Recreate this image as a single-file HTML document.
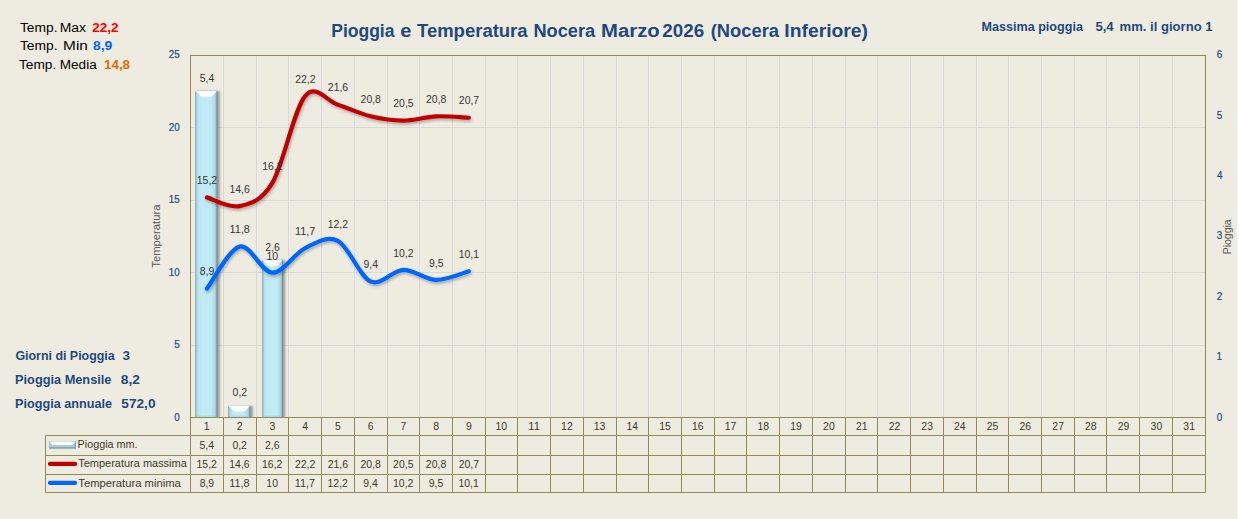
<!DOCTYPE html><html><head><meta charset="utf-8"><style>html,body{margin:0;padding:0;background:#fff;}svg{display:block;font-family:"Liberation Sans",sans-serif;}</style></head><body>
<svg width="1239" height="519" viewBox="0 0 1239 519">
<defs>
<filter id="sh" x="-10%" y="-10%" width="120%" height="130%"><feGaussianBlur in="SourceAlpha" stdDeviation="1.6"/><feOffset dx="0.8" dy="2.2"/><feComponentTransfer><feFuncA type="linear" slope="0.28"/></feComponentTransfer><feMerge><feMergeNode/><feMergeNode in="SourceGraphic"/></feMerge></filter>
<filter id="bsh" x="-30%" y="-5%" width="160%" height="110%"><feGaussianBlur in="SourceAlpha" stdDeviation="1"/><feOffset dx="1.5" dy="0"/><feComponentTransfer><feFuncA type="linear" slope="0.35"/></feComponentTransfer><feMerge><feMergeNode/><feMergeNode in="SourceGraphic"/></feMerge></filter>
<linearGradient id="barh" x1="0" x2="1" y1="0" y2="0">
<stop offset="0" stop-color="#86AFBC"/><stop offset="0.05" stop-color="#9CC6D2"/><stop offset="0.12" stop-color="#B9E3EE"/><stop offset="0.3" stop-color="#C0EAF5"/><stop offset="0.7" stop-color="#C0EAF5"/><stop offset="0.86" stop-color="#B4DCE7"/><stop offset="0.95" stop-color="#94B9C4"/><stop offset="1" stop-color="#6F929C"/>
</linearGradient>
<linearGradient id="bevt" x1="0" x2="0" y1="0" y2="1"><stop offset="0" stop-color="#FFFFFF"/><stop offset="0.7" stop-color="#F8FDFE"/><stop offset="1" stop-color="#DDF3F8"/></linearGradient>
<linearGradient id="bevb" x1="0" x2="0" y1="0" y2="1"><stop offset="0" stop-color="#A8D0DB" stop-opacity="0"/><stop offset="1" stop-color="#A2C8D3" stop-opacity="0.7"/></linearGradient>
<clipPath id="plotclip"><rect x="0" y="0" width="1239" height="417"/></clipPath>
</defs>
<rect x="0" y="0" width="1237" height="519" fill="#EEECE1"/>
<rect x="1237" y="0" width="2" height="519" fill="#FFFFFF"/>
<line x1="190.5" x2="1205.5" y1="345.5" y2="345.5" stroke="#D9D9D9" stroke-width="1"/>
<line x1="190.5" x2="1205.5" y1="272.5" y2="272.5" stroke="#D9D9D9" stroke-width="1"/>
<line x1="190.5" x2="1205.5" y1="200.5" y2="200.5" stroke="#D9D9D9" stroke-width="1"/>
<line x1="190.5" x2="1205.5" y1="127.5" y2="127.5" stroke="#D9D9D9" stroke-width="1"/>
<line x1="223.5" x2="223.5" y1="55.5" y2="417.5" stroke="#D9D9D9" stroke-width="1"/>
<line x1="256.5" x2="256.5" y1="55.5" y2="417.5" stroke="#D9D9D9" stroke-width="1"/>
<line x1="288.5" x2="288.5" y1="55.5" y2="417.5" stroke="#D9D9D9" stroke-width="1"/>
<line x1="321.5" x2="321.5" y1="55.5" y2="417.5" stroke="#D9D9D9" stroke-width="1"/>
<line x1="354.5" x2="354.5" y1="55.5" y2="417.5" stroke="#D9D9D9" stroke-width="1"/>
<line x1="387.5" x2="387.5" y1="55.5" y2="417.5" stroke="#D9D9D9" stroke-width="1"/>
<line x1="419.5" x2="419.5" y1="55.5" y2="417.5" stroke="#D9D9D9" stroke-width="1"/>
<line x1="452.5" x2="452.5" y1="55.5" y2="417.5" stroke="#D9D9D9" stroke-width="1"/>
<line x1="485.5" x2="485.5" y1="55.5" y2="417.5" stroke="#D9D9D9" stroke-width="1"/>
<line x1="517.5" x2="517.5" y1="55.5" y2="417.5" stroke="#D9D9D9" stroke-width="1"/>
<line x1="550.5" x2="550.5" y1="55.5" y2="417.5" stroke="#D9D9D9" stroke-width="1"/>
<line x1="583.5" x2="583.5" y1="55.5" y2="417.5" stroke="#D9D9D9" stroke-width="1"/>
<line x1="616.5" x2="616.5" y1="55.5" y2="417.5" stroke="#D9D9D9" stroke-width="1"/>
<line x1="648.5" x2="648.5" y1="55.5" y2="417.5" stroke="#D9D9D9" stroke-width="1"/>
<line x1="681.5" x2="681.5" y1="55.5" y2="417.5" stroke="#D9D9D9" stroke-width="1"/>
<line x1="714.5" x2="714.5" y1="55.5" y2="417.5" stroke="#D9D9D9" stroke-width="1"/>
<line x1="746.5" x2="746.5" y1="55.5" y2="417.5" stroke="#D9D9D9" stroke-width="1"/>
<line x1="779.5" x2="779.5" y1="55.5" y2="417.5" stroke="#D9D9D9" stroke-width="1"/>
<line x1="812.5" x2="812.5" y1="55.5" y2="417.5" stroke="#D9D9D9" stroke-width="1"/>
<line x1="845.5" x2="845.5" y1="55.5" y2="417.5" stroke="#D9D9D9" stroke-width="1"/>
<line x1="877.5" x2="877.5" y1="55.5" y2="417.5" stroke="#D9D9D9" stroke-width="1"/>
<line x1="910.5" x2="910.5" y1="55.5" y2="417.5" stroke="#D9D9D9" stroke-width="1"/>
<line x1="943.5" x2="943.5" y1="55.5" y2="417.5" stroke="#D9D9D9" stroke-width="1"/>
<line x1="976.5" x2="976.5" y1="55.5" y2="417.5" stroke="#D9D9D9" stroke-width="1"/>
<line x1="1008.5" x2="1008.5" y1="55.5" y2="417.5" stroke="#D9D9D9" stroke-width="1"/>
<line x1="1041.5" x2="1041.5" y1="55.5" y2="417.5" stroke="#D9D9D9" stroke-width="1"/>
<line x1="1074.5" x2="1074.5" y1="55.5" y2="417.5" stroke="#D9D9D9" stroke-width="1"/>
<line x1="1106.5" x2="1106.5" y1="55.5" y2="417.5" stroke="#D9D9D9" stroke-width="1"/>
<line x1="1139.5" x2="1139.5" y1="55.5" y2="417.5" stroke="#D9D9D9" stroke-width="1"/>
<line x1="1172.5" x2="1172.5" y1="55.5" y2="417.5" stroke="#D9D9D9" stroke-width="1"/>
<g clip-path="url(#plotclip)"><g filter="url(#bsh)"><rect x="195.10" y="91.20" width="22.40" height="326.30" fill="url(#barh)"/><path d="M195.70,91.20 L216.90,91.20 L211.40,97.00 Q206.30,97.80 201.20,97.00 Z" fill="url(#bevt)"/><rect x="195.10" y="414.50" width="22.40" height="3" fill="url(#bevb)"/><rect x="195.10" y="92.00" width="1" height="325.50" fill="#8EB7C3" opacity="0.8"/><rect x="216.50" y="91.70" width="1" height="325.80" fill="#6E919B" opacity="0.85"/></g></g>
<g clip-path="url(#plotclip)"><g filter="url(#bsh)"><rect x="228.10" y="405.90" width="22.40" height="11.60" fill="url(#barh)"/><path d="M228.70,405.90 L249.90,405.90 L244.40,411.70 Q239.30,412.50 234.20,411.70 Z" fill="url(#bevt)"/><rect x="228.10" y="414.50" width="22.40" height="3" fill="url(#bevb)"/><rect x="228.10" y="406.70" width="1" height="10.80" fill="#8EB7C3" opacity="0.8"/><rect x="249.50" y="406.40" width="1" height="11.10" fill="#6E919B" opacity="0.85"/></g></g>
<g clip-path="url(#plotclip)"><g filter="url(#bsh)"><rect x="262.10" y="260.20" width="20.90" height="157.30" fill="url(#barh)"/><path d="M262.70,260.20 L282.40,260.20 L276.90,266.00 Q272.55,266.80 268.20,266.00 Z" fill="url(#bevt)"/><rect x="262.10" y="414.50" width="20.90" height="3" fill="url(#bevb)"/><rect x="262.10" y="261.00" width="1" height="156.50" fill="#8EB7C3" opacity="0.8"/><rect x="282.00" y="260.70" width="1" height="156.80" fill="#6E919B" opacity="0.85"/></g></g>
<rect x="190.5" y="55.5" width="1015.0" height="362.0" fill="none" stroke="#948A54" stroke-width="1"/>
<path d="M206.87,197.40 C212.33,198.85 228.70,208.51 239.61,206.09 C250.53,203.68 261.44,201.27 272.35,182.92 C283.27,164.58 294.18,109.08 305.10,96.04 C316.01,83.01 326.92,101.35 337.84,104.73 C348.75,108.11 359.67,113.66 370.58,116.32 C381.49,118.97 392.41,120.66 403.32,120.66 C414.24,120.66 425.15,116.80 436.06,116.32 C446.98,115.83 463.35,117.52 468.81,117.76" fill="none" stroke="#C00000" stroke-width="4.2" stroke-linecap="round" filter="url(#sh)"/>
<path d="M206.87,288.63 C212.33,281.63 228.70,249.29 239.61,246.64 C250.53,243.98 261.44,272.46 272.35,272.70 C283.27,272.94 294.18,253.39 305.10,248.08 C316.01,242.77 326.92,235.29 337.84,240.84 C348.75,246.39 359.67,276.56 370.58,281.39 C381.49,286.21 392.41,270.05 403.32,269.80 C414.24,269.56 425.15,279.70 436.06,279.94 C446.98,280.18 463.35,272.70 468.81,271.25" fill="none" stroke="#0066FF" stroke-width="4.2" stroke-linecap="round" filter="url(#sh)"/>
<text x="199.75" y="82.00" font-size="11" fill="#363636" textLength="14.53" lengthAdjust="spacingAndGlyphs" xml:space="preserve">5,4</text>
<text x="232.61" y="396.00" font-size="11" fill="#363636" textLength="14.53" lengthAdjust="spacingAndGlyphs" xml:space="preserve">0,2</text>
<text x="265.26" y="251.00" font-size="11" fill="#363636" textLength="14.53" lengthAdjust="spacingAndGlyphs" xml:space="preserve">2,6</text>
<text x="196.77" y="184.00" font-size="11" fill="#363636" textLength="20.34" lengthAdjust="spacingAndGlyphs" xml:space="preserve">15,2</text>
<text x="229.48" y="193.00" font-size="11" fill="#363636" textLength="20.34" lengthAdjust="spacingAndGlyphs" xml:space="preserve">14,6</text>
<text x="262.25" y="170.00" font-size="11" fill="#363636" textLength="20.34" lengthAdjust="spacingAndGlyphs" xml:space="preserve">16,2</text>
<text x="295.13" y="83.00" font-size="11" fill="#363636" textLength="20.34" lengthAdjust="spacingAndGlyphs" xml:space="preserve">22,2</text>
<text x="327.84" y="91.00" font-size="11" fill="#363636" textLength="20.34" lengthAdjust="spacingAndGlyphs" xml:space="preserve">21,6</text>
<text x="360.58" y="103.00" font-size="11" fill="#363636" textLength="20.34" lengthAdjust="spacingAndGlyphs" xml:space="preserve">20,8</text>
<text x="393.31" y="107.00" font-size="11" fill="#363636" textLength="20.34" lengthAdjust="spacingAndGlyphs" xml:space="preserve">20,5</text>
<text x="426.06" y="103.00" font-size="11" fill="#363636" textLength="20.34" lengthAdjust="spacingAndGlyphs" xml:space="preserve">20,8</text>
<text x="458.84" y="104.00" font-size="11" fill="#363636" textLength="20.34" lengthAdjust="spacingAndGlyphs" xml:space="preserve">20,7</text>
<text x="199.83" y="275.00" font-size="11" fill="#363636" textLength="14.53" lengthAdjust="spacingAndGlyphs" xml:space="preserve">8,9</text>
<text x="229.47" y="233.00" font-size="11" fill="#363636" textLength="20.34" lengthAdjust="spacingAndGlyphs" xml:space="preserve">11,8</text>
<text x="266.55" y="260.00" font-size="11" fill="#363636" textLength="11.62" lengthAdjust="spacingAndGlyphs" xml:space="preserve">10</text>
<text x="294.99" y="235.00" font-size="11" fill="#363636" textLength="20.34" lengthAdjust="spacingAndGlyphs" xml:space="preserve">11,7</text>
<text x="327.73" y="228.00" font-size="11" fill="#363636" textLength="20.34" lengthAdjust="spacingAndGlyphs" xml:space="preserve">12,2</text>
<text x="363.43" y="268.00" font-size="11" fill="#363636" textLength="14.53" lengthAdjust="spacingAndGlyphs" xml:space="preserve">9,4</text>
<text x="393.22" y="257.00" font-size="11" fill="#363636" textLength="20.34" lengthAdjust="spacingAndGlyphs" xml:space="preserve">10,2</text>
<text x="428.98" y="267.00" font-size="11" fill="#363636" textLength="14.53" lengthAdjust="spacingAndGlyphs" xml:space="preserve">9,5</text>
<text x="458.69" y="258.00" font-size="11" fill="#363636" textLength="20.34" lengthAdjust="spacingAndGlyphs" xml:space="preserve">10,1</text>
<text x="174.28" y="421.00" font-size="11" fill="#1F497D" textLength="5.51" lengthAdjust="spacingAndGlyphs" xml:space="preserve" stroke="#1F497D" stroke-width="0.2">0</text>
<text x="174.31" y="348.00" font-size="11" fill="#1F497D" textLength="5.51" lengthAdjust="spacingAndGlyphs" xml:space="preserve" stroke="#1F497D" stroke-width="0.2">5</text>
<text x="168.77" y="276.00" font-size="11" fill="#1F497D" textLength="11.01" lengthAdjust="spacingAndGlyphs" xml:space="preserve" stroke="#1F497D" stroke-width="0.2">10</text>
<text x="168.80" y="203.00" font-size="11" fill="#1F497D" textLength="11.01" lengthAdjust="spacingAndGlyphs" xml:space="preserve" stroke="#1F497D" stroke-width="0.2">15</text>
<text x="168.77" y="131.00" font-size="11" fill="#1F497D" textLength="11.01" lengthAdjust="spacingAndGlyphs" xml:space="preserve" stroke="#1F497D" stroke-width="0.2">20</text>
<text x="168.80" y="58.00" font-size="11" fill="#1F497D" textLength="11.01" lengthAdjust="spacingAndGlyphs" xml:space="preserve" stroke="#1F497D" stroke-width="0.2">25</text>
<text x="1216.81" y="421.00" font-size="11" fill="#1F497D" textLength="5.51" lengthAdjust="spacingAndGlyphs" xml:space="preserve" stroke="#1F497D" stroke-width="0.2">0</text>
<text x="1216.45" y="360.00" font-size="11" fill="#1F497D" textLength="5.51" lengthAdjust="spacingAndGlyphs" xml:space="preserve" stroke="#1F497D" stroke-width="0.2">1</text>
<text x="1216.70" y="300.00" font-size="11" fill="#1F497D" textLength="5.51" lengthAdjust="spacingAndGlyphs" xml:space="preserve" stroke="#1F497D" stroke-width="0.2">2</text>
<text x="1216.82" y="239.00" font-size="11" fill="#1F497D" textLength="5.51" lengthAdjust="spacingAndGlyphs" xml:space="preserve" stroke="#1F497D" stroke-width="0.2">3</text>
<text x="1216.97" y="179.00" font-size="11" fill="#1F497D" textLength="5.51" lengthAdjust="spacingAndGlyphs" xml:space="preserve" stroke="#1F497D" stroke-width="0.2">4</text>
<text x="1216.80" y="119.00" font-size="11" fill="#1F497D" textLength="5.51" lengthAdjust="spacingAndGlyphs" xml:space="preserve" stroke="#1F497D" stroke-width="0.2">5</text>
<text x="1216.70" y="58.00" font-size="11" fill="#1F497D" textLength="5.51" lengthAdjust="spacingAndGlyphs" xml:space="preserve" stroke="#1F497D" stroke-width="0.2">6</text>
<g transform="translate(159.5,236.05) rotate(-90)">
<text x="-31.70" y="0.00" font-size="11" fill="#595959" textLength="63.15" lengthAdjust="spacingAndGlyphs" xml:space="preserve">Temperatura</text>
</g>
<g transform="translate(1231,236.4) rotate(-90)">
<text x="-17.96" y="0.00" font-size="11" fill="#595959" textLength="35.06" lengthAdjust="spacingAndGlyphs" xml:space="preserve">Pioggia</text>
</g>
<line x1="45.5" x2="1205.5" y1="435.5" y2="435.5" stroke="#948A54" stroke-width="1"/>
<line x1="45.5" x2="1205.5" y1="455.5" y2="455.5" stroke="#948A54" stroke-width="1"/>
<line x1="45.5" x2="1205.5" y1="474.5" y2="474.5" stroke="#948A54" stroke-width="1"/>
<line x1="45.5" x2="1205.5" y1="492.5" y2="492.5" stroke="#948A54" stroke-width="1"/>
<line x1="45.5" x2="45.5" y1="435.5" y2="492.5" stroke="#948A54" stroke-width="1"/>
<line x1="190.5" x2="190.5" y1="417.5" y2="492.5" stroke="#948A54" stroke-width="1"/>
<line x1="223.5" x2="223.5" y1="417.5" y2="492.5" stroke="#948A54" stroke-width="1"/>
<line x1="256.5" x2="256.5" y1="417.5" y2="492.5" stroke="#948A54" stroke-width="1"/>
<line x1="288.5" x2="288.5" y1="417.5" y2="492.5" stroke="#948A54" stroke-width="1"/>
<line x1="321.5" x2="321.5" y1="417.5" y2="492.5" stroke="#948A54" stroke-width="1"/>
<line x1="354.5" x2="354.5" y1="417.5" y2="492.5" stroke="#948A54" stroke-width="1"/>
<line x1="387.5" x2="387.5" y1="417.5" y2="492.5" stroke="#948A54" stroke-width="1"/>
<line x1="419.5" x2="419.5" y1="417.5" y2="492.5" stroke="#948A54" stroke-width="1"/>
<line x1="452.5" x2="452.5" y1="417.5" y2="492.5" stroke="#948A54" stroke-width="1"/>
<line x1="485.5" x2="485.5" y1="417.5" y2="492.5" stroke="#948A54" stroke-width="1"/>
<line x1="517.5" x2="517.5" y1="417.5" y2="492.5" stroke="#948A54" stroke-width="1"/>
<line x1="550.5" x2="550.5" y1="417.5" y2="492.5" stroke="#948A54" stroke-width="1"/>
<line x1="583.5" x2="583.5" y1="417.5" y2="492.5" stroke="#948A54" stroke-width="1"/>
<line x1="616.5" x2="616.5" y1="417.5" y2="492.5" stroke="#948A54" stroke-width="1"/>
<line x1="648.5" x2="648.5" y1="417.5" y2="492.5" stroke="#948A54" stroke-width="1"/>
<line x1="681.5" x2="681.5" y1="417.5" y2="492.5" stroke="#948A54" stroke-width="1"/>
<line x1="714.5" x2="714.5" y1="417.5" y2="492.5" stroke="#948A54" stroke-width="1"/>
<line x1="746.5" x2="746.5" y1="417.5" y2="492.5" stroke="#948A54" stroke-width="1"/>
<line x1="779.5" x2="779.5" y1="417.5" y2="492.5" stroke="#948A54" stroke-width="1"/>
<line x1="812.5" x2="812.5" y1="417.5" y2="492.5" stroke="#948A54" stroke-width="1"/>
<line x1="845.5" x2="845.5" y1="417.5" y2="492.5" stroke="#948A54" stroke-width="1"/>
<line x1="877.5" x2="877.5" y1="417.5" y2="492.5" stroke="#948A54" stroke-width="1"/>
<line x1="910.5" x2="910.5" y1="417.5" y2="492.5" stroke="#948A54" stroke-width="1"/>
<line x1="943.5" x2="943.5" y1="417.5" y2="492.5" stroke="#948A54" stroke-width="1"/>
<line x1="976.5" x2="976.5" y1="417.5" y2="492.5" stroke="#948A54" stroke-width="1"/>
<line x1="1008.5" x2="1008.5" y1="417.5" y2="492.5" stroke="#948A54" stroke-width="1"/>
<line x1="1041.5" x2="1041.5" y1="417.5" y2="492.5" stroke="#948A54" stroke-width="1"/>
<line x1="1074.5" x2="1074.5" y1="417.5" y2="492.5" stroke="#948A54" stroke-width="1"/>
<line x1="1106.5" x2="1106.5" y1="417.5" y2="492.5" stroke="#948A54" stroke-width="1"/>
<line x1="1139.5" x2="1139.5" y1="417.5" y2="492.5" stroke="#948A54" stroke-width="1"/>
<line x1="1172.5" x2="1172.5" y1="417.5" y2="492.5" stroke="#948A54" stroke-width="1"/>
<line x1="1205.5" x2="1205.5" y1="417.5" y2="492.5" stroke="#948A54" stroke-width="1"/>
<text x="203.82" y="430.00" font-size="11" fill="#3D3A24" textLength="5.81" lengthAdjust="spacingAndGlyphs" xml:space="preserve">1</text>
<text x="236.71" y="430.00" font-size="11" fill="#3D3A24" textLength="5.81" lengthAdjust="spacingAndGlyphs" xml:space="preserve">2</text>
<text x="269.48" y="430.00" font-size="11" fill="#3D3A24" textLength="5.81" lengthAdjust="spacingAndGlyphs" xml:space="preserve">3</text>
<text x="302.22" y="430.00" font-size="11" fill="#3D3A24" textLength="5.81" lengthAdjust="spacingAndGlyphs" xml:space="preserve">4</text>
<text x="334.94" y="430.00" font-size="11" fill="#3D3A24" textLength="5.81" lengthAdjust="spacingAndGlyphs" xml:space="preserve">5</text>
<text x="367.64" y="430.00" font-size="11" fill="#3D3A24" textLength="5.81" lengthAdjust="spacingAndGlyphs" xml:space="preserve">6</text>
<text x="400.41" y="430.00" font-size="11" fill="#3D3A24" textLength="5.81" lengthAdjust="spacingAndGlyphs" xml:space="preserve">7</text>
<text x="433.16" y="430.00" font-size="11" fill="#3D3A24" textLength="5.81" lengthAdjust="spacingAndGlyphs" xml:space="preserve">8</text>
<text x="465.90" y="430.00" font-size="11" fill="#3D3A24" textLength="5.81" lengthAdjust="spacingAndGlyphs" xml:space="preserve">9</text>
<text x="495.54" y="430.00" font-size="11" fill="#3D3A24" textLength="11.62" lengthAdjust="spacingAndGlyphs" xml:space="preserve">10</text>
<text x="528.34" y="430.00" font-size="11" fill="#3D3A24" textLength="11.62" lengthAdjust="spacingAndGlyphs" xml:space="preserve">11</text>
<text x="561.09" y="430.00" font-size="11" fill="#3D3A24" textLength="11.62" lengthAdjust="spacingAndGlyphs" xml:space="preserve">12</text>
<text x="593.79" y="430.00" font-size="11" fill="#3D3A24" textLength="11.62" lengthAdjust="spacingAndGlyphs" xml:space="preserve">13</text>
<text x="626.46" y="430.00" font-size="11" fill="#3D3A24" textLength="11.62" lengthAdjust="spacingAndGlyphs" xml:space="preserve">14</text>
<text x="659.27" y="430.00" font-size="11" fill="#3D3A24" textLength="11.62" lengthAdjust="spacingAndGlyphs" xml:space="preserve">15</text>
<text x="692.02" y="430.00" font-size="11" fill="#3D3A24" textLength="11.62" lengthAdjust="spacingAndGlyphs" xml:space="preserve">16</text>
<text x="724.79" y="430.00" font-size="11" fill="#3D3A24" textLength="11.62" lengthAdjust="spacingAndGlyphs" xml:space="preserve">17</text>
<text x="757.50" y="430.00" font-size="11" fill="#3D3A24" textLength="11.62" lengthAdjust="spacingAndGlyphs" xml:space="preserve">18</text>
<text x="790.26" y="430.00" font-size="11" fill="#3D3A24" textLength="11.62" lengthAdjust="spacingAndGlyphs" xml:space="preserve">19</text>
<text x="823.10" y="430.00" font-size="11" fill="#3D3A24" textLength="11.62" lengthAdjust="spacingAndGlyphs" xml:space="preserve">20</text>
<text x="855.89" y="430.00" font-size="11" fill="#3D3A24" textLength="11.62" lengthAdjust="spacingAndGlyphs" xml:space="preserve">21</text>
<text x="888.64" y="430.00" font-size="11" fill="#3D3A24" textLength="11.62" lengthAdjust="spacingAndGlyphs" xml:space="preserve">22</text>
<text x="921.35" y="430.00" font-size="11" fill="#3D3A24" textLength="11.62" lengthAdjust="spacingAndGlyphs" xml:space="preserve">23</text>
<text x="954.01" y="430.00" font-size="11" fill="#3D3A24" textLength="11.62" lengthAdjust="spacingAndGlyphs" xml:space="preserve">24</text>
<text x="986.82" y="430.00" font-size="11" fill="#3D3A24" textLength="11.62" lengthAdjust="spacingAndGlyphs" xml:space="preserve">25</text>
<text x="1019.57" y="430.00" font-size="11" fill="#3D3A24" textLength="11.62" lengthAdjust="spacingAndGlyphs" xml:space="preserve">26</text>
<text x="1052.35" y="430.00" font-size="11" fill="#3D3A24" textLength="11.62" lengthAdjust="spacingAndGlyphs" xml:space="preserve">27</text>
<text x="1085.06" y="430.00" font-size="11" fill="#3D3A24" textLength="11.62" lengthAdjust="spacingAndGlyphs" xml:space="preserve">28</text>
<text x="1117.82" y="430.00" font-size="11" fill="#3D3A24" textLength="11.62" lengthAdjust="spacingAndGlyphs" xml:space="preserve">29</text>
<text x="1150.58" y="430.00" font-size="11" fill="#3D3A24" textLength="11.62" lengthAdjust="spacingAndGlyphs" xml:space="preserve">30</text>
<text x="1183.37" y="430.00" font-size="11" fill="#3D3A24" textLength="11.62" lengthAdjust="spacingAndGlyphs" xml:space="preserve">31</text>
<text x="199.55" y="449.00" font-size="11" fill="#3D3A24" textLength="14.53" lengthAdjust="spacingAndGlyphs" xml:space="preserve">5,4</text>
<text x="232.41" y="449.00" font-size="11" fill="#3D3A24" textLength="14.53" lengthAdjust="spacingAndGlyphs" xml:space="preserve">0,2</text>
<text x="265.06" y="449.00" font-size="11" fill="#3D3A24" textLength="14.53" lengthAdjust="spacingAndGlyphs" xml:space="preserve">2,6</text>
<text x="196.57" y="468.00" font-size="11" fill="#3D3A24" textLength="20.34" lengthAdjust="spacingAndGlyphs" xml:space="preserve">15,2</text>
<text x="229.28" y="468.00" font-size="11" fill="#3D3A24" textLength="20.34" lengthAdjust="spacingAndGlyphs" xml:space="preserve">14,6</text>
<text x="262.05" y="468.00" font-size="11" fill="#3D3A24" textLength="20.34" lengthAdjust="spacingAndGlyphs" xml:space="preserve">16,2</text>
<text x="294.93" y="468.00" font-size="11" fill="#3D3A24" textLength="20.34" lengthAdjust="spacingAndGlyphs" xml:space="preserve">22,2</text>
<text x="327.64" y="468.00" font-size="11" fill="#3D3A24" textLength="20.34" lengthAdjust="spacingAndGlyphs" xml:space="preserve">21,6</text>
<text x="360.38" y="468.00" font-size="11" fill="#3D3A24" textLength="20.34" lengthAdjust="spacingAndGlyphs" xml:space="preserve">20,8</text>
<text x="393.11" y="468.00" font-size="11" fill="#3D3A24" textLength="20.34" lengthAdjust="spacingAndGlyphs" xml:space="preserve">20,5</text>
<text x="425.86" y="468.00" font-size="11" fill="#3D3A24" textLength="20.34" lengthAdjust="spacingAndGlyphs" xml:space="preserve">20,8</text>
<text x="458.64" y="468.00" font-size="11" fill="#3D3A24" textLength="20.34" lengthAdjust="spacingAndGlyphs" xml:space="preserve">20,7</text>
<text x="199.63" y="487.00" font-size="11" fill="#3D3A24" textLength="14.53" lengthAdjust="spacingAndGlyphs" xml:space="preserve">8,9</text>
<text x="229.27" y="487.00" font-size="11" fill="#3D3A24" textLength="20.34" lengthAdjust="spacingAndGlyphs" xml:space="preserve">11,8</text>
<text x="266.35" y="487.00" font-size="11" fill="#3D3A24" textLength="11.62" lengthAdjust="spacingAndGlyphs" xml:space="preserve">10</text>
<text x="294.79" y="487.00" font-size="11" fill="#3D3A24" textLength="20.34" lengthAdjust="spacingAndGlyphs" xml:space="preserve">11,7</text>
<text x="327.53" y="487.00" font-size="11" fill="#3D3A24" textLength="20.34" lengthAdjust="spacingAndGlyphs" xml:space="preserve">12,2</text>
<text x="363.23" y="487.00" font-size="11" fill="#3D3A24" textLength="14.53" lengthAdjust="spacingAndGlyphs" xml:space="preserve">9,4</text>
<text x="393.02" y="487.00" font-size="11" fill="#3D3A24" textLength="20.34" lengthAdjust="spacingAndGlyphs" xml:space="preserve">10,2</text>
<text x="428.78" y="487.00" font-size="11" fill="#3D3A24" textLength="14.53" lengthAdjust="spacingAndGlyphs" xml:space="preserve">9,5</text>
<text x="458.49" y="487.00" font-size="11" fill="#3D3A24" textLength="20.34" lengthAdjust="spacingAndGlyphs" xml:space="preserve">10,1</text>
<g><rect x="49" y="441" width="26.8" height="7.7" fill="#A8CDD6"/><rect x="49" y="441" width="26.8" height="1" fill="#C6E4EA"/><polygon points="49.8,442 75,442 72.5,445 52.3,445" fill="#FFFFFF"/><rect x="49" y="447" width="26.8" height="1.7" fill="#8AABB4"/><rect x="74.8" y="441" width="1" height="7.7" fill="#7E9FA8"/><rect x="49" y="441" width="0.8" height="7.7" fill="#98BDC7"/></g>
<line x1="50" x2="75" y1="463.9" y2="463.9" stroke="#C00000" stroke-width="4.3" stroke-linecap="round"/>
<line x1="50" x2="75" y1="482.9" y2="482.9" stroke="#0066FF" stroke-width="4.3" stroke-linecap="round"/>
<text x="77.61" y="447.50" font-size="11" fill="#3D3A24" textLength="59.97" lengthAdjust="spacingAndGlyphs" xml:space="preserve">Pioggia mm.</text>
<text x="78.26" y="467.00" font-size="11" fill="#3D3A24" textLength="108.54" lengthAdjust="spacingAndGlyphs" xml:space="preserve">Temperatura massima</text>
<text x="78.25" y="486.50" font-size="11" fill="#3D3A24" textLength="102.55" lengthAdjust="spacingAndGlyphs" xml:space="preserve">Temperatura minima</text>
<text x="331.23" y="36.80" font-size="18" font-weight="bold" fill="#1F497D" textLength="63.26" lengthAdjust="spacingAndGlyphs" xml:space="preserve">Pioggia</text>
<text x="400.22" y="36.80" font-size="18" font-weight="bold" fill="#1F497D" textLength="11.17" lengthAdjust="spacingAndGlyphs" xml:space="preserve">e</text>
<text x="416.99" y="36.80" font-size="18" font-weight="bold" fill="#1F497D" textLength="110.59" lengthAdjust="spacingAndGlyphs" xml:space="preserve">Temperatura</text>
<text x="533.48" y="36.80" font-size="18" font-weight="bold" fill="#1F497D" textLength="61.60" lengthAdjust="spacingAndGlyphs" xml:space="preserve">Nocera</text>
<text x="601.14" y="36.80" font-size="18" font-weight="bold" fill="#1F497D" textLength="58.65" lengthAdjust="spacingAndGlyphs" xml:space="preserve">Marzo</text>
<text x="662.35" y="36.80" font-size="18" font-weight="bold" fill="#1F497D" textLength="41.73" lengthAdjust="spacingAndGlyphs" xml:space="preserve">2026</text>
<text x="710.69" y="36.80" font-size="18" font-weight="bold" fill="#1F497D" textLength="68.30" lengthAdjust="spacingAndGlyphs" xml:space="preserve">(Nocera</text>
<text x="784.31" y="36.80" font-size="18" font-weight="bold" fill="#1F497D" textLength="83.76" lengthAdjust="spacingAndGlyphs" xml:space="preserve">Inferiore)</text>
<text x="981.46" y="30.60" font-size="12" font-weight="bold" fill="#1F497D" textLength="101.46" lengthAdjust="spacingAndGlyphs" xml:space="preserve">Massima pioggia</text>
<text x="1095.40" y="30.60" font-size="12" font-weight="bold" fill="#1F497D" textLength="18.28" lengthAdjust="spacingAndGlyphs" xml:space="preserve">5,4</text>
<text x="1119.54" y="30.60" font-size="12" font-weight="bold" fill="#1F497D" textLength="93.03" lengthAdjust="spacingAndGlyphs" xml:space="preserve">mm. il giorno 1</text>
<text x="19.90" y="31.80" font-size="12" fill="#000000" textLength="37.61" lengthAdjust="spacingAndGlyphs" xml:space="preserve">Temp.</text>
<text x="59.76" y="31.80" font-size="12" fill="#000000" textLength="26.19" lengthAdjust="spacingAndGlyphs" xml:space="preserve">Max</text>
<text x="92.23" y="31.80" font-size="12" font-weight="bold" fill="#FF0000" textLength="26.41" lengthAdjust="spacingAndGlyphs" xml:space="preserve">22,2</text>
<text x="19.90" y="49.70" font-size="12" fill="#000000" textLength="37.61" lengthAdjust="spacingAndGlyphs" xml:space="preserve">Temp.</text>
<text x="63.14" y="49.70" font-size="12" fill="#000000" textLength="24.76" lengthAdjust="spacingAndGlyphs" xml:space="preserve">Min</text>
<text x="93.06" y="49.70" font-size="12" font-weight="bold" fill="#0066FF" textLength="19.25" lengthAdjust="spacingAndGlyphs" xml:space="preserve">8,9</text>
<text x="19.00" y="69.40" font-size="12" fill="#000000" textLength="37.30" lengthAdjust="spacingAndGlyphs" xml:space="preserve">Temp.</text>
<text x="59.79" y="69.40" font-size="12" fill="#000000" textLength="36.91" lengthAdjust="spacingAndGlyphs" xml:space="preserve">Media</text>
<text x="103.95" y="69.40" font-size="12" font-weight="bold" fill="#E36C09" textLength="26.16" lengthAdjust="spacingAndGlyphs" xml:space="preserve">14,8</text>
<text x="15.39" y="359.70" font-size="12.5" font-weight="bold" fill="#1F497D" textLength="99.33" lengthAdjust="spacingAndGlyphs" xml:space="preserve">Giorni di Pioggia</text>
<text x="122.49" y="359.70" font-size="12.5" font-weight="bold" fill="#1F497D" textLength="7.50" lengthAdjust="spacingAndGlyphs" xml:space="preserve">3</text>
<text x="15.05" y="383.90" font-size="12.5" font-weight="bold" fill="#1F497D" textLength="96.39" lengthAdjust="spacingAndGlyphs" xml:space="preserve">Pioggia Mensile</text>
<text x="120.86" y="383.90" font-size="12.5" font-weight="bold" fill="#1F497D" textLength="19.19" lengthAdjust="spacingAndGlyphs" xml:space="preserve">8,2</text>
<text x="15.05" y="407.80" font-size="12.5" font-weight="bold" fill="#1F497D" textLength="97.08" lengthAdjust="spacingAndGlyphs" xml:space="preserve">Pioggia annuale</text>
<text x="121.38" y="407.80" font-size="12.5" font-weight="bold" fill="#1F497D" textLength="34.08" lengthAdjust="spacingAndGlyphs" xml:space="preserve">572,0</text>
</svg></body></html>
